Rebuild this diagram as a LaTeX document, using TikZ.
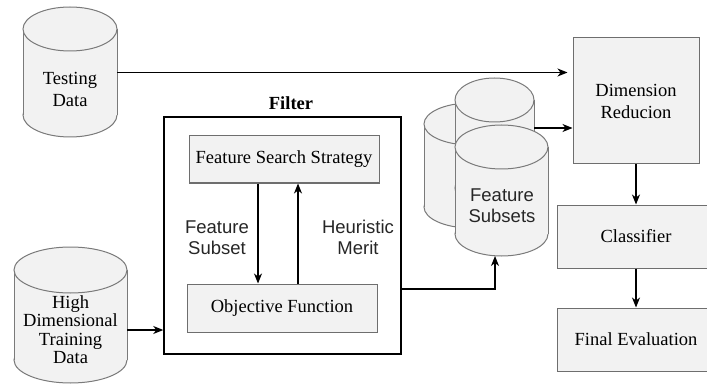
\documentclass[tikz,border=0pt]{standalone}
\usepackage{fontspec}
\setmainfont{Liberation Serif}
\setsansfont{Liberation Sans}
\usetikzlibrary{arrows.meta}
\definecolor{boxfill}{HTML}{F2F2F2}
\definecolor{boxline}{HTML}{6E6E6E}
\definecolor{cylline}{HTML}{7A7A7A}
\newcommand\drawcyl[5]{%
  \pgfmathsetmacro\cylcx{(#1+#3)/2}%
  \pgfmathsetmacro\cylrx{(#3-#1)/2}%
  \pgfmathsetmacro\cylyt{#2+#5}%
  \pgfmathsetmacro\cylyb{#4-#5}%
  \path[fill=boxfill,draw=cylline,line width=1pt] (\cylcx,\cylyb) ellipse [x radius=\cylrx, y radius=#5];
  \path[fill=boxfill] (#1,\cylyt) rectangle (#3,\cylyb);
  \draw[cylline,line width=1pt] (#1,\cylyt) -- (#1,\cylyb) (#3,\cylyt) -- (#3,\cylyb);
  \path[fill=boxfill,draw=cylline,line width=1pt] (\cylcx,\cylyt) ellipse [x radius=\cylrx, y radius=#5];
}
\begin{document}
\begin{tikzpicture}[x=1pt,y=-1pt,
  arr/.style={-{Stealth[length=10pt,width=8pt,inset=3pt]}, line width=1.2pt},
  gbox/.style={draw=boxline, fill=boxfill, line width=1pt, inner sep=0pt, align=center},
  serift/.style={font=\fontsize{18.5}{22}\selectfont, align=center, inner sep=0pt},
  sanst/.style={font=\sffamily\fontsize{18.5}{21}\selectfont, align=center, inner sep=0pt, text=black!85},
  hold/.style={inner sep=0pt, draw=none}]
\clip (0,0) rectangle (707,385);
\fill[white] (0,0) rectangle (707,385);

% Testing Data cylinder
\drawcyl{23}{7}{117}{137}{22}
\node[hold, minimum width=94pt, minimum height=130pt] (td) at (70,72) {};
\node[serift] (tdt) at (70,89) {Testing\\Data};

% High Dimensional Training Data cylinder
\drawcyl{14}{247}{127}{383}{23}
\node[hold, minimum width=113pt, minimum height=136pt] (hd) at (70.5,315) {};
\node[serift, font=\fontsize{18.5}{18.5}\selectfont] (hdt) at (70.5,329.5) {High\\Dimensional\\Training\\Data};

% Filter
\node[draw=black, line width=1.5pt, fill=white, minimum width=237pt, minimum height=237pt, inner sep=0pt] (filter) at (282.5,235.5) {};
\node[font=\bfseries\fontsize{18.5}{22}\selectfont, inner sep=0pt] (filterlbl) at (291,103) {Filter};
\node[gbox, minimum width=190pt, minimum height=47pt, font=\fontsize{18.5}{22}\selectfont] (fss) at (284,159.5) {Feature Search Strategy};
\node[gbox, minimum width=190pt, minimum height=48pt, font=\fontsize{18.5}{22}\selectfont] (of) at (282,308) {Objective Function};
\draw[arr] (fss.south -| 258,0) -- (of.north -| 258,0);
\draw[arr] (of.north -| 298,0) -- (fss.south -| 298,0);
\node[sanst] (fsl) at (217,237.5) {Feature\\Subset};
\node[sanst] (hml) at (358,237.5) {Heuristic\\Merit};

% Feature Subsets cylinders
\drawcyl{424}{103}{517}{228}{21}
\drawcyl{455}{78}{534}{210}{22}
\node[hold, minimum width=79pt, minimum height=132pt] (bt) at (494.5,144) {};
\drawcyl{455}{125}{548}{256}{22}
\node[hold, minimum width=93pt, minimum height=131pt] (fs) at (501.5,190.5) {};
\node[sanst] (fst) at (502,206) {Feature\\Subsets};

% Right column
\node[gbox, minimum width=126pt, minimum height=126pt, font=\fontsize{18.5}{22}\selectfont] (dr) at (636,101) {Dimension\\Reducion};
\node[gbox, minimum width=158pt, minimum height=63pt, font=\fontsize{18.5}{22}\selectfont] (cl) at (636,236.5) {Classifier};
\node[gbox, minimum width=158pt, minimum height=63pt, font=\fontsize{18.5}{22}\selectfont] (fe) at (636,339.5) {Final Evaluation};

% Connectors
\coordinate (c1) at (0,72.5);
\coordinate (c2) at (0,128);
\coordinate (c3) at (0,330);
\coordinate (c4) at (0,289);
\coordinate (fsin) at (495,256);
\draw[arr, shorten >=5pt] (td.east |- c1) -- (dr.west |- c1);
\draw[arr] (bt.east |- c2) -- (dr.west |- c2);
\draw[arr] (hd.east |- c3) -- (filter.west |- c3);
\draw[arr] (filter.east |- c4) -| (fsin);
\draw[arr] (dr.south) -- (cl.north);
\draw[arr] (cl.south) -- (fe.north);
\end{tikzpicture}
\end{document}
